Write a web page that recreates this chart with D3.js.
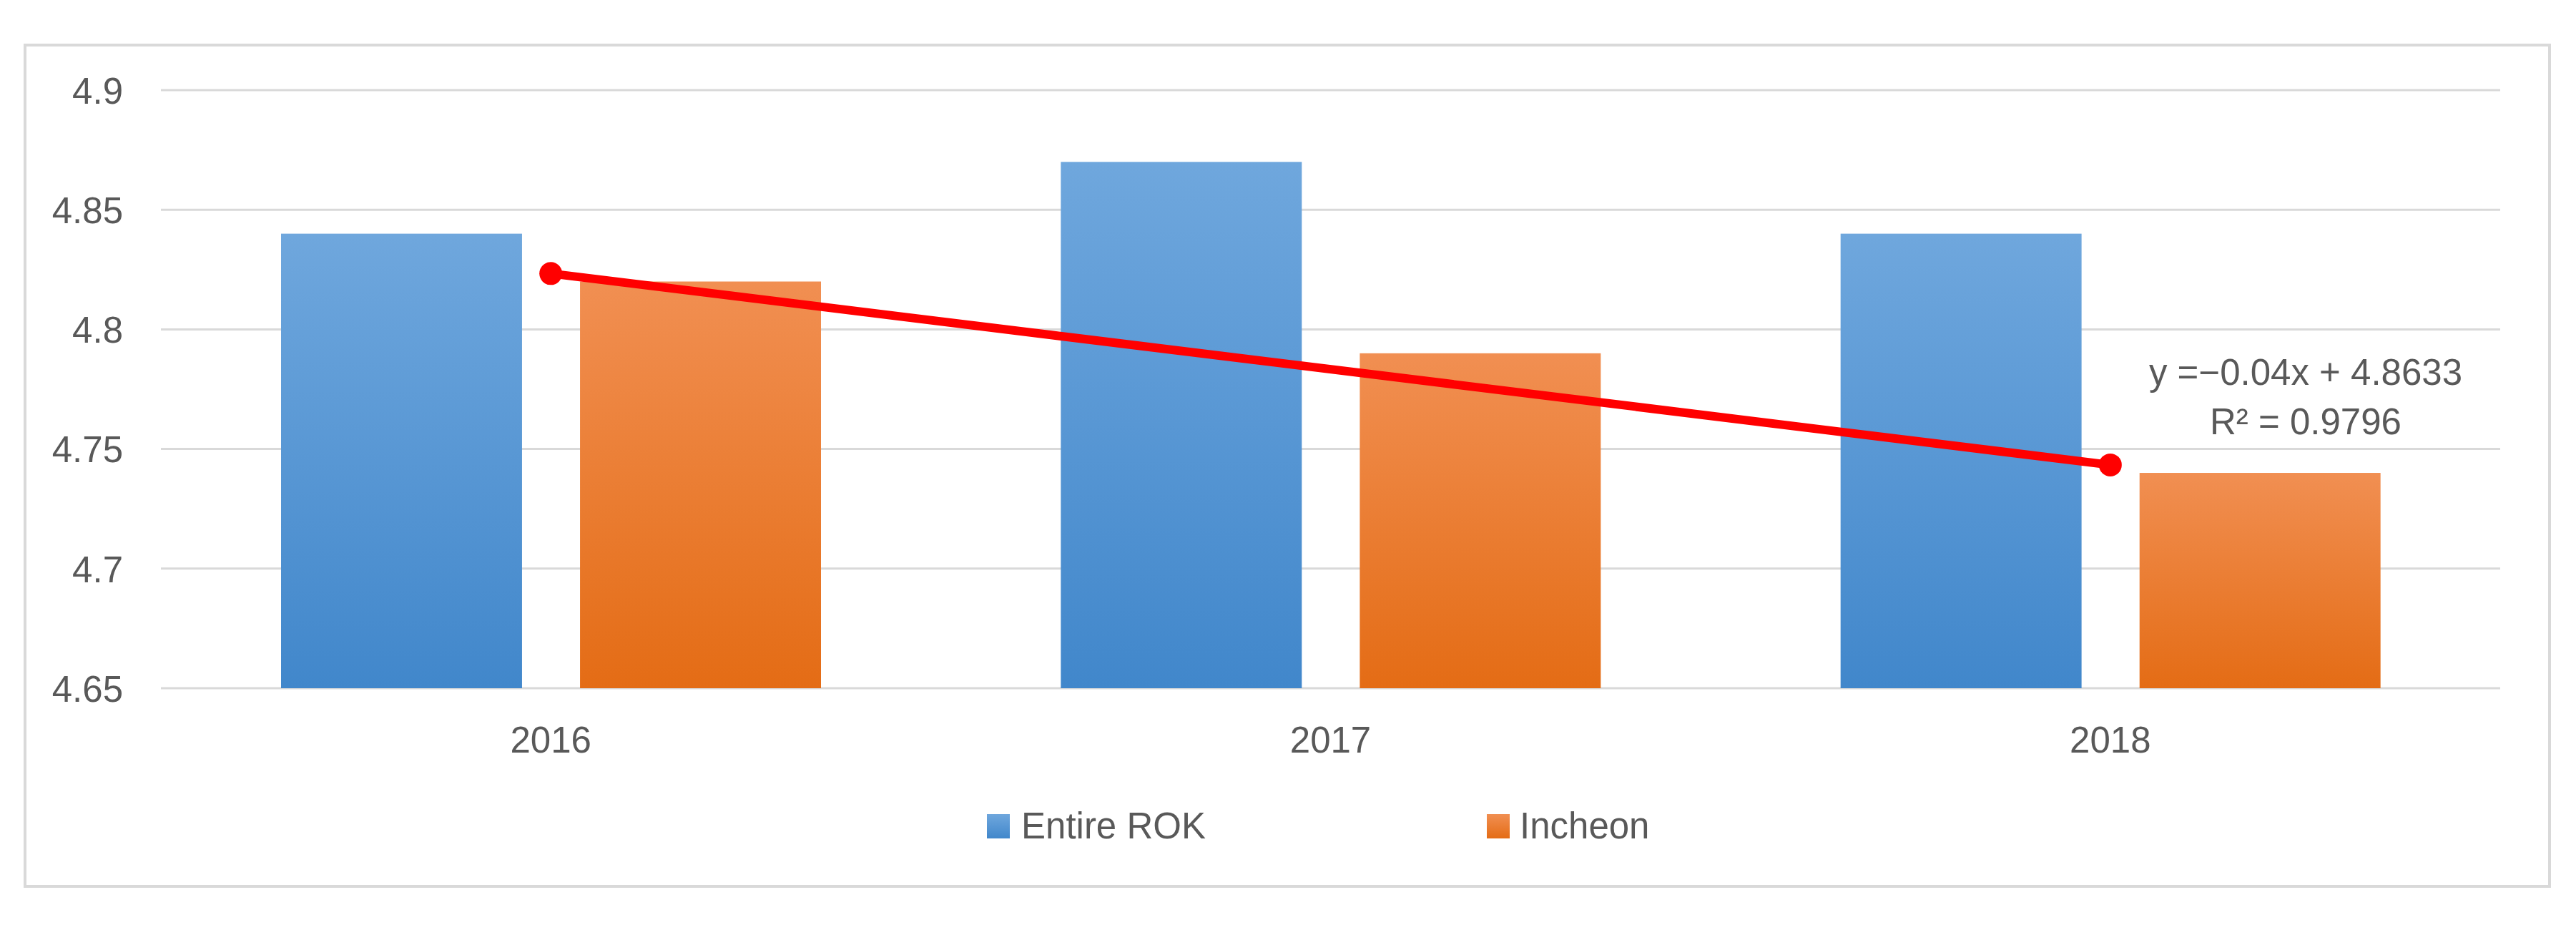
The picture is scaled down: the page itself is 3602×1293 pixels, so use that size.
<!DOCTYPE html>
<html>
<head>
<meta charset="utf-8">
<script src="https://cdn.jsdelivr.net/npm/d3@7"></script>
<style>
  html, body { margin: 0; padding: 0; background: #ffffff; }
  svg { display: block; }
  text { font-family: "Liberation Sans", Arial, sans-serif; fill: #595959; }
</style>
</head>
<body>
<svg id="chart" width="3602" height="1293"></svg>
<script>
// ---- data ----
const years = ["2016", "2017", "2018"];
const seriesNames = ["Entire ROK", "Incheon"];
const entireROK = [4.84, 4.87, 4.84];
const incheon = [4.82, 4.79, 4.74];
const yTicks = [4.65, 4.7, 4.75, 4.8, 4.85, 4.9];
const yTickLabels = ["4.65", "4.7", "4.75", "4.8", "4.85", "4.9"];

const seriesValues = [entireROK, incheon];
const colorsTop = ["#6FA7DD", "#F18F52"];
const colorsBottom = ["#4187CB", "#E46C15"];

const svg = d3.select("#chart");

// outer frame
svg.append("rect")
  .attr("x", 35).attr("y", 63)
  .attr("width", 3530).attr("height", 1176)
  .attr("fill", "#ffffff")
  .attr("stroke", "#D9D9D9").attr("stroke-width", 4);

const plot = { left: 225, right: 3496, top: 126, bottom: 962 };

const x0 = d3.scaleBand().domain(years).range([plot.left, plot.right]).padding(0);
const x1 = d3.scaleBand().domain(seriesNames).range([168, 923]).paddingInner(0.194).paddingOuter(0);
const y = d3.scaleLinear().domain([4.65, 4.9]).range([plot.bottom, plot.top]);

// gradients
const defs = svg.append("defs");
seriesNames.forEach((s, i) => {
  const g = defs.append("linearGradient")
    .attr("id", "grad" + i)
    .attr("x1", 0).attr("y1", 0).attr("x2", 0).attr("y2", 1);
  g.append("stop").attr("offset", "0%").attr("stop-color", colorsTop[i]);
  g.append("stop").attr("offset", "100%").attr("stop-color", colorsBottom[i]);
});

// gridlines
svg.append("g").selectAll("line")
  .data(yTicks)
  .join("line")
  .attr("x1", plot.left).attr("x2", plot.right)
  .attr("y1", d => y(d)).attr("y2", d => y(d))
  .attr("stroke", "#D9D9D9").attr("stroke-width", 3);

// y axis labels via d3 axis
const yAxis = d3.axisLeft(y)
  .tickValues(yTicks)
  .tickFormat((d, i) => yTickLabels[i])
  .tickSize(0)
  .tickPadding(0);
const yg = svg.append("g").attr("transform", "translate(172,0)").call(yAxis);
yg.select(".domain").remove();
yg.selectAll("text")
  .attr("font-family", "Liberation Sans, Arial, sans-serif")
  .attr("font-size", 51)
  .attr("fill", "#595959")
  .attr("dy", "0.36em");

// bars
const groups = svg.append("g").selectAll("g")
  .data(years)
  .join("g")
  .attr("transform", d => `translate(${x0(d)},0)`);

groups.selectAll("rect")
  .data((d, yi) => seriesNames.map((s, si) => ({ s, si, v: seriesValues[si][yi] })))
  .join("rect")
  .attr("x", d => x1(d.s))
  .attr("width", x1.bandwidth())
  .attr("y", d => y(d.v))
  .attr("height", d => y(4.65) - y(d.v))
  .attr("fill", d => `url(#grad${d.si})`);

// x axis labels
const xAxis = d3.axisBottom(x0).tickSize(0).tickPadding(0);
const xg = svg.append("g").attr("transform", "translate(0,1052)").call(xAxis);
xg.select(".domain").remove();
xg.selectAll("text")
  .attr("font-family", "Liberation Sans, Arial, sans-serif")
  .attr("font-size", 51)
  .attr("fill", "#595959")
  .attr("dy", 0);

// linear trendline of Incheon (least squares)
const xs = incheon.map((_, i) => i + 1);
const mx = d3.mean(xs), my = d3.mean(incheon);
const sxy = d3.sum(xs.map((xv, i) => (xv - mx) * (incheon[i] - my)));
const sxx = d3.sum(xs.map(xv => (xv - mx) ** 2));
const slope = sxy / sxx;
const intercept = my - slope * mx;
const ssTot = d3.sum(incheon.map(v => (v - my) ** 2));
const ssRes = d3.sum(incheon.map((v, i) => (v - (intercept + slope * xs[i])) ** 2));
const r2 = 1 - ssRes / ssTot;

const center = yr => x0(yr) + x0.bandwidth() / 2;
const trendPts = [
  { x: center(years[0]), y: y(intercept + slope * 1) },
  { x: center(years[years.length - 1]), y: y(intercept + slope * years.length) }
];
svg.append("line")
  .attr("x1", trendPts[0].x).attr("y1", trendPts[0].y)
  .attr("x2", trendPts[1].x).attr("y2", trendPts[1].y)
  .attr("stroke", "#FF0000").attr("stroke-width", 12);
svg.append("g").selectAll("circle")
  .data(trendPts)
  .join("circle")
  .attr("cx", d => d.x).attr("cy", d => d.y).attr("r", 16)
  .attr("fill", "#FF0000");

// equation label
const eq = svg.append("g");
eq.append("text")
  .attr("x", 3224).attr("y", 538)
  .attr("text-anchor", "middle")
  .attr("font-size", 51)
  .text(`y =\u2212${Math.abs(slope).toFixed(2)}x + ${intercept.toFixed(4)}`);
eq.append("text")
  .attr("x", 3224).attr("y", 607)
  .attr("text-anchor", "middle")
  .attr("font-size", 51)
  .text(`R\u00B2 = ${r2.toFixed(4)}`);

// legend
const legendPos = [{ sx: 1380, tx: 1428 }, { sx: 2079, tx: 2125 }];
const lg = svg.append("g").selectAll("g")
  .data(seriesNames)
  .join("g");
lg.append("rect")
  .attr("x", (d, i) => legendPos[i].sx).attr("y", 1138)
  .attr("width", 32).attr("height", 34)
  .attr("fill", (d, i) => `url(#grad${i})`);
lg.append("text")
  .attr("x", (d, i) => legendPos[i].tx).attr("y", 1172)
  .attr("font-size", 51)
  .text(d => d);
</script>
</body>
</html>
